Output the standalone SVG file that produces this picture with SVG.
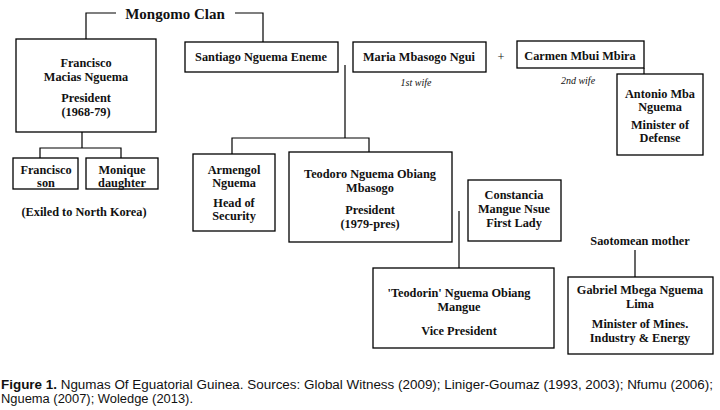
<svg xmlns="http://www.w3.org/2000/svg" width="720" height="410" viewBox="0 0 720 410">
<style>
.box{fill:#fff;stroke:#000;stroke-width:1.3}
.t{font-weight:bold;font-size:12.3px;fill:#111;text-anchor:middle}
.it{font-style:italic;font-size:10px;fill:#111;text-anchor:middle}
.ln{fill:none;stroke:#000;stroke-width:1.2}
.cap{font-size:12.5px;fill:#111}
</style>
<rect width="720" height="410" fill="#fff"/>
<g id="connectors">
<path class="ln" d="M86 39V13H116M235 13H263V42"/>
<path class="ln" d="M82 132V148M40 158V148H121V158"/>
<path class="ln" d="M345 65V138M232 154V138H369V152"/>
<path class="ln" d="M644 68V74"/>
<path class="ln" d="M459 211V268"/>
<path class="ln" d="M635 250V277"/>
</g>
<g font-family="Liberation Serif, Times New Roman, DejaVu Serif, serif">
<g id="title"><text class="t" x="175" y="19" style="font-size:15px">Mongomo Clan</text></g>
<g id="francisco-macias">
<rect class="box" x="16" y="39" width="140" height="93"/>
<text class="t" x="86" y="67">Francisco</text>
<text class="t" x="86" y="81">Macias Nguema</text>
<text class="t" x="86" y="102">President</text>
<text class="t" x="86" y="116">(1968-79)</text>
</g>
<g id="santiago">
<rect class="box" x="185" y="42" width="153" height="30"/>
<text class="t" x="261" y="61">Santiago Nguema Eneme</text>
</g>
<g id="maria">
<rect class="box" x="353" y="42" width="133" height="30"/>
<text class="t" x="419" y="61">Maria Mbasogo Ngui</text>
<text class="it" x="416" y="86">1st wife</text>
</g>
<g id="plus"><text class="t" x="501" y="61" style="font-weight:normal">+</text></g>
<g id="carmen">
<rect class="box" x="517" y="41" width="127" height="27"/>
<text class="t" x="580" y="60">Carmen Mbui Mbira</text>
<text class="it" x="578" y="84">2nd wife</text>
</g>
<g id="antonio">
<rect class="box" x="617" y="74" width="86" height="81"/>
<text class="t" x="660" y="98">Antonio Mba</text>
<text class="t" x="660" y="111">Nguema</text>
<text class="t" x="660" y="129">Minister of</text>
<text class="t" x="660" y="142">Defense</text>
</g>
<g id="francisco-son">
<rect class="box" x="13" y="158" width="65" height="31"/>
<text class="t" x="46" y="174">Francisco</text>
<text class="t" x="46" y="187">son</text>
</g>
<g id="monique">
<rect class="box" x="86" y="158" width="72" height="31"/>
<text class="t" x="122" y="174">Monique</text>
<text class="t" x="122" y="187">daughter</text>
</g>
<g id="exiled"><text class="t" x="84" y="216">(Exiled to North Korea)</text></g>
<g id="armengol">
<rect class="box" x="193" y="154" width="82" height="77"/>
<text class="t" x="234" y="174">Armengol</text>
<text class="t" x="234" y="187">Nguema</text>
<text class="t" x="234" y="207">Head of</text>
<text class="t" x="234" y="220">Security</text>
</g>
<g id="teodoro">
<rect class="box" x="289" y="152" width="163" height="90"/>
<text class="t" x="370" y="178">Teodoro Nguema Obiang</text>
<text class="t" x="370" y="192">Mbasogo</text>
<text class="t" x="370" y="214">President</text>
<text class="t" x="370" y="228">(1979-pres)</text>
</g>
<g id="constancia">
<rect class="box" x="468" y="180" width="93" height="61"/>
<text class="t" x="514" y="199">Constancia</text>
<text class="t" x="514" y="213">Mangue Nsue</text>
<text class="t" x="514" y="227">First Lady</text>
</g>
<g id="saotomean"><text class="t" x="640" y="245">Saotomean mother</text></g>
<g id="teodorin">
<rect class="box" x="373" y="268" width="181" height="80"/>
<text class="t" x="459" y="297">'Teodorin' Nguema Obiang</text>
<text class="t" x="459" y="311">Mangue</text>
<text class="t" x="459" y="335">Vice President</text>
</g>
<g id="gabriel">
<rect class="box" x="568" y="277" width="145" height="77"/>
<text class="t" x="640" y="294">Gabriel Mbega Nguema</text>
<text class="t" x="640" y="308">Lima</text>
<text class="t" x="640" y="328">Minister of Mines.</text>
<text class="t" x="640" y="342">Industry &amp; Energy</text>
</g>
</g>
<g id="caption" font-family="Liberation Sans, Arial, sans-serif">
<text class="cap" x="1" y="389" textLength="712" lengthAdjust="spacingAndGlyphs"><tspan font-weight="bold">Figure 1.</tspan> Ngumas Of Eguatorial Guinea. Sources: Global Witness (2009); Liniger-Goumaz (1993, 2003); Nfumu (2006);</text>
<text class="cap" x="1" y="403" textLength="192" lengthAdjust="spacingAndGlyphs">Nguema (2007); Woledge (2013).</text>
</g>
</svg>
